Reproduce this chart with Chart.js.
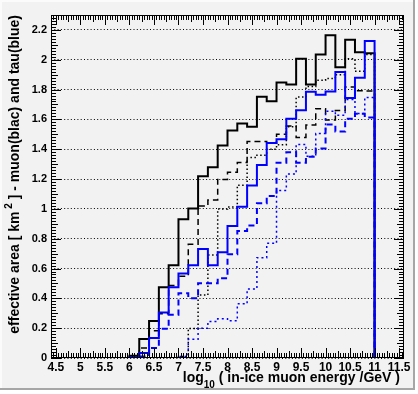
<!DOCTYPE html>
<html>
<head>
<meta charset="utf-8">
<title>effective area</title>
<script src="https://cdn.jsdelivr.net/npm/chart.js@4.4.0/dist/chart.umd.min.js"></script>
<style>
  html, body { margin: 0; padding: 0; background: #ffffff; overflow: hidden; }
  canvas { display: block; }
</style>
</head>
<body>
<canvas id="effAreaChart" width="418" height="394"></canvas>
<script>
// Histogram binning (log10 E / GeV)
const axisMin = 4.4;
const axisMax = 11.6;
const binLowEdges = [6.0, 6.2, 6.4, 6.6, 6.8, 7.0, 7.2, 7.4, 7.6, 7.8, 8.0, 8.2, 8.4,
                     8.6, 8.8, 9.0, 9.2, 9.4, 9.6, 9.8, 10.0, 10.2, 10.4, 10.6, 10.8];
const binTopEdge = 11.0;

// Effective area [km^2] per bin - muon (black)
const muonSolid  = [0.015, 0.127, 0.248, 0.475, 0.622, 0.931, 1.003, 1.219, 1.279, 1.425, 1.525, 1.572, 1.550,
                    1.752, 1.721, 1.847, 1.834, 2.007, 1.834, 2.035, 2.165, 1.950, 2.134, 2.051, 2.043];
const muonDashed = [0.008, 0.067, 0.182, 0.296, 0.486, 0.548, 0.762, 1.020, 1.060, 1.197, 1.246, 1.311, 1.452,
                    1.452, 1.440, 1.500, 1.555, 1.478, 1.562, 1.672, 1.596, 1.660, 1.818, 1.792, 1.790];
const muonDotted = [0, 0, 0, 0, 0, 0.010, 0.198, 0.423, 0.690, 0.999, 1.012, 1.159, 1.345,
                    1.360, 1.400, 1.430, 1.550, 1.750, 1.820, 1.862, 1.875, 1.900, 2.007, 1.922, 2.035];

// Effective area [km^2] per bin - tau (blue)
const tauSolid  = [0.007, 0.033, 0.134, 0.305, 0.475, 0.566, 0.622, 0.731, 0.622, 0.709, 0.885, 1.014, 1.157,
                   1.295, 1.442, 1.466, 1.604, 1.661, 1.785, 1.766, 1.787, 1.918, 1.743, 1.880, 2.126];
const tauDashed = [0, 0.010, 0.067, 0.196, 0.290, 0.435, 0.401, 0.502, 0.502, 0.535, 0.696, 0.851, 0.888,
                   1.037, 1.087, 1.310, 1.380, 1.310, 1.350, 1.405, 1.565, 1.518, 1.604, 1.637, 1.613];
const tauDotted = [0, 0, 0, 0, 0, 0.010, 0.125, 0.200, 0.245, 0.263, 0.249, 0.363, 0.462,
                   0.673, 0.769, 1.124, 1.233, 1.432, 1.353, 1.505, 1.655, 1.627, 1.733, 1.640, 1.747];

// Axis ranges / ticks
const yMin = 0;
const yMax = 2.3;
const xLabelStep = 0.5;
const yLabelStep = 0.2;

const FONT = '"Liberation Sans", Arial, Helvetica, sans-serif';

// Build step points for a histogram outline (zero outside the filled bins)
function histogramPoints(values) {
    const pts = [{ x: axisMin, y: 0 }];
    values.forEach((v, i) => pts.push({ x: binLowEdges[i], y: v }));
    pts.push({ x: binTopEdge, y: 0 });
    pts.push({ x: axisMax, y: 0 });
    return pts;
}

function histDataset(values, color, dash, width) {
    return {
        data: histogramPoints(values),
        borderColor: color,
        borderWidth: width,
        borderDash: dash,
        stepped: true,
        fill: false,
        pointRadius: 0,
        tension: 0
    };
}

function formatTick(v) {
    return String(Math.round(v * 10) / 10);
}

// Canvas background with ROOT-like bevel
const rootCanvas = {
    id: 'rootCanvas',
    beforeDraw(chart) {
        const { ctx, width, height } = chart;
        ctx.save();
        ctx.fillStyle = '#ffffff';
        ctx.fillRect(0, 0, width, height);
        ctx.fillStyle = '#f2f2f2';
        ctx.fillRect(0, 0, 415, 390);
        ctx.fillStyle = '#fbfbfb';
        ctx.fillRect(0, 0, 415, 2);
        ctx.fillRect(0, 0, 2, 390);
        ctx.fillStyle = '#a6a6a6';
        ctx.fillRect(413, 0, 2, 390);
        ctx.fillRect(0, 388, 415, 2);
        ctx.restore();
    }
};

// Frame, inward ticks on all four sides and axis titles
const rootAxes = {
    id: 'rootAxes',
    afterDraw(chart) {
        const { ctx, chartArea: a, scales } = chart;
        const xs = scales.x;
        const ys = scales.y;
        ctx.save();
        ctx.strokeStyle = '#000';
        ctx.lineWidth = 1;

        // frame
        ctx.strokeRect(Math.round(a.left) + 0.5, Math.round(a.top) + 0.5,
                       Math.round(a.right - a.left) - 1, Math.round(a.bottom - a.top) - 1);

        ctx.beginPath();
        // x ticks every 0.05, bigger each 0.25 and 0.5
        for (let k = Math.ceil(axisMin / 0.05); k <= Math.floor(axisMax / 0.05); k++) {
            const px = Math.round(xs.getPixelForValue(k * 0.05)) + 0.5;
            const len = k % 10 === 0 ? 10 : (k % 5 === 0 ? 7 : 5);
            ctx.moveTo(px, a.bottom);
            ctx.lineTo(px, a.bottom - len);
            ctx.moveTo(px, a.top);
            ctx.lineTo(px, a.top + len);
        }
        // y ticks every 0.02, bigger each 0.1 and 0.2
        for (let k = 0; k <= Math.round(yMax / 0.02); k++) {
            const py = Math.round(ys.getPixelForValue(k * 0.02)) + 0.5;
            const len = k % 10 === 0 ? 10 : (k % 5 === 0 ? 7 : 5);
            ctx.moveTo(a.left, py);
            ctx.lineTo(a.left + len, py);
            ctx.moveTo(a.right, py);
            ctx.lineTo(a.right - len, py);
        }
        ctx.stroke();

        ctx.fillStyle = '#000';
        ctx.textBaseline = 'alphabetic';

        // x title: log10 ( in-ice muon energy /GeV )
        const big = 'bold 14px ' + FONT;
        const small = 'bold 10px ' + FONT;
        const xParts = [['log', big, 0], ['10', small, 6], [' ( in-ice muon energy /GeV )', big, 0]];
        let total = 0;
        xParts.forEach(p => { ctx.font = p[1]; total += ctx.measureText(p[0]).width; });
        let x = 400 - total;
        const baseX = 381.5;
        xParts.forEach(p => {
            ctx.font = p[1];
            ctx.fillText(p[0], x, baseX + p[2]);
            x += ctx.measureText(p[0]).width;
        });

        // y title (rotated, aligned to the top of the axis)
        const yParts = [['effective area [ km', big, 0], [' 2', small, -7], [' ] - muon(blac) and tau(blue)', big, 0]];
        let yTotal = 0;
        yParts.forEach(p => { ctx.font = p[1]; yTotal += ctx.measureText(p[0]).width; });
        ctx.translate(19, 15 + yTotal);
        ctx.rotate(-Math.PI / 2);
        let t = 0;
        yParts.forEach(p => {
            ctx.font = p[1];
            ctx.fillText(p[0], t, p[2]);
            t += ctx.measureText(p[0]).width;
        });
        ctx.restore();
    }
};

// Initialize Chart
const chartCtx = document.getElementById('effAreaChart');
const effAreaChart = new Chart(chartCtx, {
    type: 'line',
    data: {
        datasets: [
            histDataset(tauSolid, '#0000ff', [], 2),
            histDataset(tauDashed, '#0000ff', [6, 4], 2),
            histDataset(tauDotted, '#0000ff', [2, 3], 1.5),
            histDataset(muonSolid, '#000000', [], 2),
            histDataset(muonDashed, '#000000', [6, 4], 1.5),
            histDataset(muonDotted, '#000000', [1.5, 2.5], 1.5)
        ]
    },
    options: {
        responsive: false,
        devicePixelRatio: 1,
        animation: false,
        events: [],
        layout: { padding: { left: 0, top: 15, right: 14, bottom: 0 } },
        plugins: {
            legend: { display: false },
            tooltip: { enabled: false },
            title: { display: false }
        },
        scales: {
            x: {
                type: 'linear',
                min: axisMin,
                max: axisMax,
                afterFit: scale => { scale.height = 36; },
                grid: { display: false, drawTicks: false },
                border: { display: false },
                ticks: {
                    stepSize: xLabelStep,
                    includeBounds: false,
                    autoSkip: false,
                    maxRotation: 0,
                    padding: 2,
                    color: '#000',
                    font: { family: FONT, size: 12, weight: 'bold' },
                    callback: v => formatTick(v)
                }
            },
            y: {
                type: 'linear',
                min: yMin,
                max: yMax,
                afterFit: scale => { scale.width = 51; },
                grid: { color: '#000', lineWidth: 1, drawTicks: false },
                border: { display: false, dash: [1, 2.3] },
                ticks: {
                    stepSize: yLabelStep,
                    includeBounds: false,
                    padding: 4,
                    color: '#000',
                    font: { family: FONT, size: 11, weight: 'bold' },
                    callback: v => formatTick(v)
                }
            }
        }
    },
    plugins: [rootCanvas, rootAxes]
});
</script>
</body>
</html>
